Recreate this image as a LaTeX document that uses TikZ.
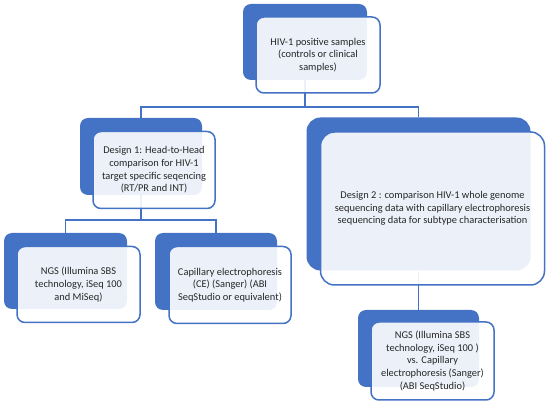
\documentclass[tikz,border=0pt]{standalone}
\usepackage{fontspec}
\setmainfont{Carlito}
\definecolor{obl}{HTML}{4472C4}
\begin{document}
\begin{tikzpicture}[x=1pt,y=-1pt,
  backbox/.style={draw=none,fill=obl,rounded corners=#1,inner sep=0pt},
  frontbox/.style={draw=obl,line width=1.5pt,fill=white,fill opacity=0.9,text opacity=1,rounded corners=#1,inner sep=0pt,align=center,font=\fontsize{10.4}{12.6}\selectfont,text=black!85},
  conn/.style={draw=obl,line width=1.5pt}]
\useasboundingbox (0,0) rectangle (550,406);
% back rectangles
\node[backbox=8pt,minimum width=124pt,minimum height=76pt] (topB) at (305,42) {};
\node[backbox=8pt,minimum width=122pt,minimum height=77pt] (d1B) at (141,156.5) {};
\node[backbox=14pt,minimum width=224pt,minimum height=153pt] (d2B) at (418.5,194) {};
\node[backbox=8pt,minimum width=123pt,minimum height=76pt] (ngsB) at (65.5,271) {};
\node[backbox=8pt,minimum width=122pt,minimum height=77pt] (ceB) at (216,271.5) {};
\node[backbox=8pt,minimum width=121pt,minimum height=77pt] (botB) at (418.5,348.5) {};
% connectors
\draw[conn] (topB.south) -- ++(0,27) -| (d1B.north);
\draw[conn] (topB.south) -- ++(0,27) -| (d2B.north);
\draw[conn] (d1B.south) -- ++(0,25) -| (ngsB.north);
\draw[conn] (d1B.south) -- ++(0,25) -| (ceB.north);
\draw[conn] (d2B.south) -- (botB.north);
% front rectangles
\node[frontbox=8pt,minimum width=124pt,minimum height=76pt] (topF) at (318,55) {HIV-1 positive samples\\(controls or clinical\\samples)};
\node[frontbox=8pt,minimum width=122pt,minimum height=77pt] (d1F) at (154,170) {Design 1: Head-to-Head\\comparison for HIV-1\\target specific seqencing\\(RT/PR and INT)};
\node[frontbox=14pt,minimum width=224pt,minimum height=153pt] (d2F) at (432.5,208.5) {Design 2 : comparison HIV-1 whole genome\\sequencing data with capillary electrophoresis\\sequencing data for subtype characterisation};
\node[frontbox=8pt,minimum width=123pt,minimum height=76pt] (ngsF) at (78.5,284.5) {NGS (Illumina SBS\\technology, iSeq 100\\and MiSeq)};
\node[frontbox=8pt,minimum width=122pt,minimum height=77pt] (ceF) at (230,285) {Capillary electrophoresis\\(CE) (Sanger) (ABI\\SeqStudio or equivalent)};
\node[frontbox=8pt,minimum width=123pt,minimum height=78pt] (botF) at (432.5,361) {NGS (Illumina SBS\\technology, iSeq 100 )\\vs. Capillary\\electrophoresis (Sanger)\\(ABI SeqStudio)};
\end{tikzpicture}
\end{document}
